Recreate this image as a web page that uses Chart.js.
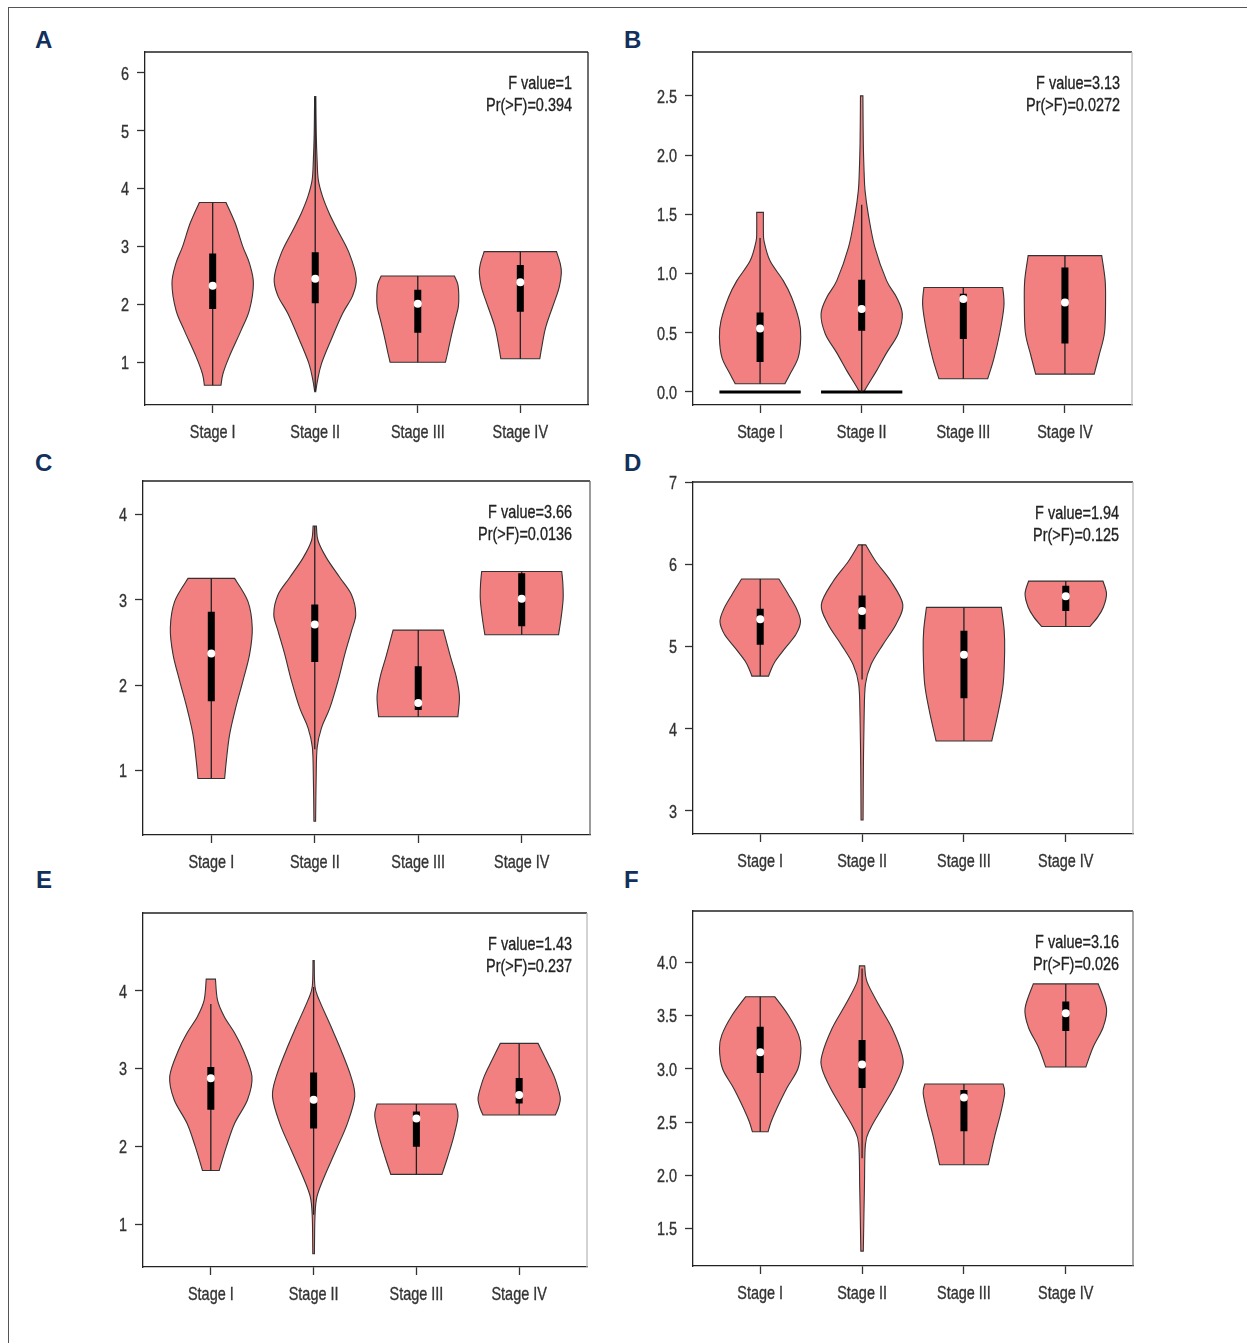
<!DOCTYPE html>
<html>
<head>
<meta charset="utf-8">
<script src="https://cdn.jsdelivr.net/npm/chart.js@4.4.1/dist/chart.umd.min.js"></script>
<style>
  html, body { margin: 0; padding: 0; background: #fff; }
  #sheet { position: relative; width: 1247px; height: 1343px; overflow: hidden; }
  #outline { position: absolute; left: 8px; top: 7px; right: -4px; bottom: -4px;
             border-top: 1px solid #555; border-left: 1px solid #555; }
  .tag { position: absolute; font: bold 24px "Liberation Sans", Arial, sans-serif;
         line-height: 24px; color: #12305c; }
  canvas { position: absolute; }
</style>
</head>
<body>
<div id="sheet">
  <div id="outline"></div>
  <div class="tag" style="left:35px;top:28px">A</div>
  <div class="tag" style="left:624px;top:28px">B</div>
  <div class="tag" style="left:35px;top:451px">C</div>
  <div class="tag" style="left:624px;top:451px">D</div>
  <div class="tag" style="left:36px;top:868px">E</div>
  <div class="tag" style="left:624px;top:868px">F</div>
</div>
<script>
const stages = ['Stage I', 'Stage II', 'Stage III', 'Stage IV'];

// boxes: [lower whisker, Q1, median, Q3, upper whisker] per stage
// shapes: violin outline per stage, [value, half width] from top to bottom

// ── A ──
const ticksA = [1, 2, 3, 4, 5, 6];
const statA = ['F value=1', 'Pr(>F)=0.394'];
const boxA = [
    [0.60, 1.92, 2.32, 2.88, 3.76],
    [0.50, 2.02, 2.44, 2.90, 5.58],
    [1.00, 1.51, 2.01, 2.25, 2.49],
    [1.06, 1.87, 2.38, 2.68, 2.91]
];
const shapeA = [
    [[3.76, 0.13], [3.40, 0.22], [3.00, 0.293], [2.71, 0.358], [2.36, 0.397], [1.90, 0.358], [1.55, 0.277], [1.10, 0.163],
     [0.80, 0.10], [0.60, 0.081]],
    [[5.59, 0.006], [4.95, 0.01], [4.50, 0.018], [4.15, 0.03], [3.86, 0.072], [3.57, 0.137], [3.28, 0.218], [2.88, 0.332],
     [2.45, 0.40], [2.15, 0.365], [1.84, 0.267], [1.38, 0.153], [0.98, 0.062], [0.69, 0.023], [0.49, 0.005]],
    [[2.49, 0.357], [2.35, 0.39], [2.15, 0.40], [1.95, 0.395], [1.70, 0.36], [1.40, 0.32], [1.15, 0.29], [1.00, 0.27]],
    [[2.91, 0.353], [2.70, 0.39], [2.54, 0.40], [2.30, 0.38], [2.08, 0.34], [1.62, 0.25], [1.27, 0.21], [1.06, 0.19]]
];

// ── B ──
const ticksB = [0, 0.5, 1, 1.5, 2, 2.5];
const statB = ['F value=3.13', 'Pr(>F)=0.0272'];
const boxB = [
    [0.07, 0.254, 0.535, 0.67, 1.30],
    [0.0, 0.516, 0.70, 0.947, 1.58],
    [0.112, 0.448, 0.784, 0.829, 0.882],
    [0.151, 0.409, 0.756, 1.05, 1.151]
];
const shapeB = [
    [[1.516, 0.033], [1.36, 0.033], [1.27, 0.04], [1.107, 0.098], [0.94, 0.228], [0.80, 0.31], [0.60, 0.385], [0.46, 0.40],
     [0.29, 0.375], [0.15, 0.294], [0.07, 0.245]],
    [[2.50, 0.012], [2.10, 0.016], [1.85, 0.024], [1.70, 0.033], [1.50, 0.065], [1.22, 0.13], [0.94, 0.245], [0.80, 0.343],
     [0.657, 0.40], [0.49, 0.358], [0.33, 0.245], [0.18, 0.147], [0.065, 0.065], [0.0, 0.02]],
    [[0.882, 0.388], [0.73, 0.40], [0.504, 0.36], [0.28, 0.30], [0.112, 0.24]],
    [[1.151, 0.362], [0.95, 0.395], [0.78, 0.40], [0.504, 0.39], [0.31, 0.336], [0.151, 0.288]]
];
// flat bars at zero under stage I and II
const zeroStagesB = [1, 2];
const zeroLevelB = 0;

// ── C ──
const ticksC = [1, 2, 3, 4];
const statC = ['F value=3.66', 'Pr(>F)=0.0136'];
const boxC = [
    [0.906, 1.81, 2.37, 2.86, 3.25],
    [1.25, 2.27, 2.71, 2.945, 3.863],
    [1.63, 1.71, 1.79, 2.22, 2.644],
    [2.59, 2.69, 3.01, 3.31, 3.33]
];
const shapeC = [
    [[3.25, 0.225], [2.98, 0.354], [2.67, 0.396], [2.36, 0.37], [2.05, 0.306], [1.73, 0.235], [1.42, 0.177], [1.11, 0.145],
     [0.906, 0.129]],
    [[3.863, 0.016], [3.69, 0.032], [3.49, 0.113], [3.26, 0.242], [3.06, 0.354], [2.83, 0.396], [2.63, 0.354], [2.36, 0.29],
     [2.05, 0.225], [1.73, 0.145], [1.50, 0.065], [1.27, 0.023], [0.875, 0.013], [0.406, 0.008]],
    [[2.644, 0.243], [2.34, 0.31], [2.10, 0.367], [1.87, 0.398], [1.63, 0.383]],
    [[3.33, 0.387], [3.18, 0.398], [3.00, 0.40], [2.78, 0.38], [2.59, 0.356]]
];

// ── D ──
const ticksD = [3, 4, 5, 6, 7];
const statD = ['F value=1.94', 'Pr(>F)=0.125'];
const boxD = [
    [4.64, 5.02, 5.33, 5.46, 5.82],
    [4.60, 5.21, 5.43, 5.62, 6.236],
    [3.85, 4.37, 4.90, 5.19, 5.475],
    [5.243, 5.43, 5.61, 5.74, 5.795]
];
const shapeD = [
    [[5.82, 0.183], [5.63, 0.278], [5.45, 0.36], [5.30, 0.395], [5.145, 0.35], [4.98, 0.245], [4.82, 0.147], [4.70, 0.10],
     [4.64, 0.082]],
    [[6.236, 0.036], [6.03, 0.137], [5.79, 0.285], [5.51, 0.40], [5.27, 0.334], [5.02, 0.203], [4.78, 0.088], [4.54, 0.033],
     [4.14, 0.02], [3.53, 0.013], [2.89, 0.01]],
    [[5.475, 0.368], [5.20, 0.395], [4.95, 0.40], [4.55, 0.386], [4.22, 0.34], [3.85, 0.273]],
    [[5.795, 0.365], [5.64, 0.40], [5.48, 0.37], [5.36, 0.315], [5.243, 0.237]]
];

// ── E ──
const ticksE = [1, 2, 3, 4];
const statE = ['F value=1.43', 'Pr(>F)=0.237'];
const boxE = [
    [1.69, 2.47, 2.876, 3.02, 3.83],
    [1.12, 2.23, 2.60, 2.95, 4.05],
    [1.64, 1.995, 2.36, 2.45, 2.545],
    [2.404, 2.55, 2.66, 2.88, 3.324]
];
const shapeE = [
    [[4.15, 0.045], [3.88, 0.065], [3.67, 0.13], [3.455, 0.233], [3.24, 0.314], [2.90, 0.40], [2.60, 0.357], [2.30, 0.233],
     [2.00, 0.152], [1.69, 0.081]],
    [[4.39, 0.006], [4.055, 0.013], [3.88, 0.055], [3.54, 0.169], [3.24, 0.266], [2.90, 0.363], [2.64, 0.40], [2.30, 0.33],
     [1.95, 0.217], [1.61, 0.104], [1.35, 0.032], [1.09, 0.013], [0.62, 0.008]],
    [[2.545, 0.383], [2.39, 0.405], [2.13, 0.364], [1.87, 0.306], [1.64, 0.249]],
    [[3.324, 0.184], [3.11, 0.264], [2.90, 0.34], [2.69, 0.39], [2.60, 0.40], [2.49, 0.38], [2.404, 0.352]]
];

// ── F ──
const ticksF = [1.5, 2, 2.5, 3, 3.5, 4];
const statF = ['F value=3.16', 'Pr(>F)=0.026'];
const boxF = [
    [2.41, 2.96, 3.155, 3.394, 3.675],
    [2.16, 2.82, 3.04, 3.27, 3.94],
    [2.10, 2.415, 2.73, 2.80, 2.857],
    [3.016, 3.355, 3.52, 3.63, 3.796]
];
const shapeF = [
    [[3.675, 0.144], [3.50, 0.278], [3.32, 0.376], [3.19, 0.40], [3.00, 0.37], [2.82, 0.262], [2.63, 0.164], [2.505, 0.108],
     [2.41, 0.077]],
    [[3.965, 0.026], [3.815, 0.049], [3.60, 0.164], [3.38, 0.294], [3.13, 0.393], [3.00, 0.393], [2.82, 0.311], [2.63, 0.196],
     [2.44, 0.082], [2.29, 0.033], [1.88, 0.023], [1.29, 0.012]],
    [[2.857, 0.384], [2.77, 0.40], [2.58, 0.36], [2.36, 0.30], [2.10, 0.239]],
    [[3.796, 0.319], [3.565, 0.40], [3.39, 0.367], [3.20, 0.267], [3.016, 0.197]]
];

// Painéis: área do gráfico [esq, topo, dir, base], faixa do eixo y, recuo do texto F
const panels = [
    { frame: [145, 52, 588, 405], yMin: 0.26, yMax: 6.36, ticks: ticksA, dec: 0, box: boxA, shape: shapeA, stat: statA, inset: 16, edge: '#222' },
    { frame: [693, 52, 1132, 405], yMin: -0.11, yMax: 2.87, ticks: ticksB, dec: 1, box: boxB, shape: shapeB, stat: statB, inset: 12, edge: '#bbb',
      zero: zeroStagesB },
    { frame: [143, 481, 590, 835], yMin: 0.245, yMax: 4.39, ticks: ticksC, dec: 0, box: boxC, shape: shapeC, stat: statC, inset: 18, edge: '#666' },
    { frame: [693, 482, 1133, 834], yMin: 2.72, yMax: 7, ticks: ticksD, dec: 0, box: boxD, shape: shapeD, stat: statD, inset: 14, edge: '#bbb' },
    { frame: [143, 913, 587, 1267], yMin: 0.45, yMax: 5.0, ticks: ticksE, dec: 0, box: boxE, shape: shapeE, stat: statE, inset: 15, edge: '#bbb' },
    { frame: [693, 911, 1133, 1266], yMin: 1.15, yMax: 4.48, ticks: ticksF, dec: 1, box: boxF, shape: shapeF, stat: statF, inset: 14, edge: '#777' }
];

const AXIS_W = 70, AXIS_H = 50, PAD = 10;
const FONT = '19px "Liberation Sans", Arial, sans-serif';
const NARROW = 0.76;   // largura relativa da fonte condensada

// curva suave passando pelos pontos (Catmull-Rom)
function smoothTo(ctx, pts) {
    for (let i = 0; i < pts.length - 1; i++) {
        const p0 = pts[Math.max(i - 1, 0)], p1 = pts[i], p2 = pts[i + 1], p3 = pts[Math.min(i + 2, pts.length - 1)];
        ctx.bezierCurveTo(p1.x + (p2.x - p0.x) / 6, p1.y + (p2.y - p0.y) / 6,
                          p2.x - (p3.x - p1.x) / 6, p2.y - (p3.y - p1.y) / 6, p2.x, p2.y);
    }
}

// texto condensado horizontalmente
function narrowText(ctx, text, x, y, align) {
    ctx.save();
    ctx.translate(x, y);
    ctx.scale(NARROW, 1);
    ctx.textAlign = align;
    ctx.textBaseline = 'alphabetic';
    ctx.fillText(text, 0, 0);
    ctx.lineWidth = 0.35;
    ctx.strokeStyle = ctx.fillStyle;
    ctx.strokeText(text, 0, 0);
    ctx.restore();
}

const violinPlugin = {
    id: 'violin',
    beforeDatasetsDraw(chart, args, opts) {
        const { ctx, chartArea, scales: { x, y } } = chart;
        ctx.save();
        ctx.beginPath();
        ctx.rect(chartArea.left, chartArea.top, chartArea.width, chartArea.height);
        ctx.clip();
        opts.shapes.forEach((profile, i) => {
            const c = i + 1;
            const right = profile.map(([v, w]) => ({ x: x.getPixelForValue(c + w), y: y.getPixelForValue(v) }));
            const left = profile.map(([v, w]) => ({ x: x.getPixelForValue(c - w), y: y.getPixelForValue(v) })).reverse();
            ctx.beginPath();
            ctx.moveTo(left[left.length - 1].x, left[left.length - 1].y);
            ctx.lineTo(right[0].x, right[0].y);
            smoothTo(ctx, right);
            ctx.lineTo(left[0].x, left[0].y);
            smoothTo(ctx, left);
            ctx.closePath();
            ctx.fillStyle = '#f28080';
            ctx.fill();
            ctx.strokeStyle = '#333';
            ctx.lineWidth = 1.1;
            ctx.stroke();
        });
        ctx.restore();
    },
    afterDraw(chart, args, opts) {
        const { ctx, chartArea: a, scales: { x, y } } = chart;
        ctx.save();
        ctx.lineWidth = 1.3;
        ctx.strokeStyle = '#222';
        ctx.beginPath();
        ctx.moveTo(a.left, a.top);
        ctx.lineTo(a.right, a.top);
        ctx.stroke();
        ctx.strokeStyle = opts.edge;
        ctx.beginPath();
        ctx.moveTo(a.right, a.top);
        ctx.lineTo(a.right, a.bottom);
        ctx.stroke();

        ctx.font = FONT;
        ctx.fillStyle = '#333';
        x.ticks.forEach(t => narrowText(ctx, stages[t.value - 1], x.getPixelForValue(t.value), a.bottom + 33, 'center'));
        y.ticks.forEach(t => narrowText(ctx, t.value.toFixed(opts.dec), a.left - 16, y.getPixelForValue(t.value) + 6.8, 'right'));

        ctx.fillStyle = '#222';
        narrowText(ctx, opts.stat[0], a.right - opts.inset, a.top + 37, 'right');
        narrowText(ctx, opts.stat[1], a.right - opts.inset, a.top + 59, 'right');
        ctx.restore();
    }
};

function verticalSegments(box, lo, hi) {
    const pts = [];
    box.forEach((b, i) => {
        pts.push({ x: i + 1, y: b[hi] }, { x: i + 1, y: b[lo] }, { x: i + 1, y: null });
    });
    return pts;
}

function fixAxis(axis, size) {
    if (axis.isHorizontal()) axis.height = size; else axis.width = size;
    axis.paddingTop = 0;
    axis.paddingBottom = 0;
    axis.paddingLeft = 0;
    axis.paddingRight = 0;
}

const sheet = document.getElementById('sheet');

panels.forEach(p => {
    const [L, T, R, B] = p.frame;
    const canvas = document.createElement('canvas');
    const w = (R - L) + AXIS_W + PAD;
    const h = (B - T) + PAD + AXIS_H;
    canvas.width = w;
    canvas.height = h;
    canvas.style.left = (L - AXIS_W) + 'px';
    canvas.style.top = (T - PAD) + 'px';
    canvas.style.width = w + 'px';
    canvas.style.height = h + 'px';
    sheet.appendChild(canvas);

    const datasets = [
        {   // median
            data: p.box.map((b, i) => ({ x: i + 1, y: b[2] })),
            order: 0, showLine: false, pointRadius: 4, pointBorderWidth: 0,
            pointBackgroundColor: '#fff', pointBorderColor: '#fff'
        },
        {   // interquartile bar
            data: verticalSegments(p.box, 1, 3),
            order: 1, showLine: true, spanGaps: false, pointRadius: 0,
            borderColor: '#000', borderWidth: 7, borderCapStyle: 'butt'
        },
        {   // whiskers
            data: verticalSegments(p.box, 0, 4),
            order: 2, showLine: true, spanGaps: false, pointRadius: 0,
            borderColor: '#222', borderWidth: 1.3
        }
    ];

    if (p.zero) {
        const pts = [];
        p.zero.forEach(s => pts.push({ x: s - 0.4, y: zeroLevelB }, { x: s + 0.4, y: zeroLevelB }, { x: s, y: null }));
        datasets.push({
            data: pts, order: 3, showLine: true, spanGaps: false, pointRadius: 0,
            borderColor: '#000', borderWidth: 3, borderCapStyle: 'butt'
        });
    }

    new Chart(canvas, {
        type: 'scatter',
        data: { datasets },
        plugins: [violinPlugin],
        options: {
            responsive: false,
            animation: false,
            devicePixelRatio: 1,
            layout: { padding: { top: PAD, right: PAD, left: 0, bottom: 0 } },
            plugins: {
                legend: { display: false },
                tooltip: { enabled: false },
                violin: { shapes: p.shape, stat: p.stat, edge: p.edge, inset: p.inset, dec: p.dec }
            },
            scales: {
                x: {
                    type: 'linear', min: 0.34, max: 4.66,
                    afterBuildTicks: axis => { axis.ticks = stages.map((s, i) => ({ value: i + 1 })); },
                    afterFit: axis => fixAxis(axis, AXIS_H),
                    ticks: { display: false },
                    grid: { display: true, drawOnChartArea: false, drawTicks: true, tickLength: 8, tickColor: '#333', tickWidth: 1.3 },
                    border: { display: true, color: '#222', width: 1.3 }
                },
                y: {
                    type: 'linear', min: p.yMin, max: p.yMax,
                    afterBuildTicks: axis => { axis.ticks = p.ticks.map(v => ({ value: v })); },
                    afterFit: axis => fixAxis(axis, AXIS_W),
                    ticks: { display: false },
                    grid: { display: true, drawOnChartArea: false, drawTicks: true, tickLength: 8, tickColor: '#333', tickWidth: 1.3 },
                    border: { display: true, color: '#222', width: 1.3 }
                }
            }
        }
    });
});
</script>
</body>
</html>
